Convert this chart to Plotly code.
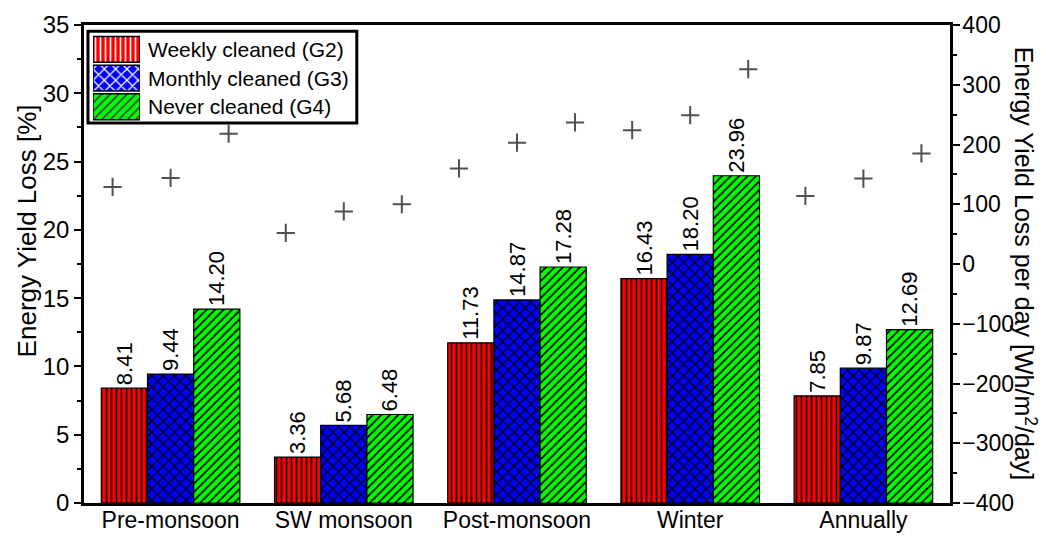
import plotly.graph_objects as go

# ---------------- data ----------------
categories = ["Pre-monsoon", "SW monsoon", "Post-monsoon", "Winter", "Annually"]
series_names = ["Weekly cleaned (G2)", "Monthly cleaned (G3)", "Never cleaned (G4)"]

weekly_loss = [8.41, 3.36, 11.73, 16.43, 7.85]
monthly_loss = [9.44, 5.68, 14.87, 18.20, 9.87]
never_loss = [14.20, 6.48, 17.28, 23.96, 12.69]

weekly_per_day = [129, 52, 160, 224, 114]
monthly_per_day = [144, 88, 203, 249, 143]
never_per_day = [218, 100, 237, 326, 185]

left_ticks = [0, 5, 10, 15, 20, 25, 30, 35]
right_ticks = [-400, -300, -200, -100, 0, 100, 200, 300, 400]

# ---------------- styles ----------------
FONT = "Arial, Liberation Sans, sans-serif"
colors = ["#ff0000", "#0000ff", "#00ff00"]
patterns = ["|", "x", "/"]
pattern_sizes = [5, 8, 6]
pattern_solidity = [0.32, 0.3, 0.3]
marker_offset = 0.335

loss_series = [weekly_loss, monthly_loss, never_loss]
perday_series = [weekly_per_day, monthly_per_day, never_per_day]
xpos = list(range(len(categories)))

fig = go.Figure()

for name, vals, col, pat, psz, sol in zip(series_names, loss_series, colors,
                                           patterns, pattern_sizes, pattern_solidity):
    fig.add_trace(go.Bar(
        x=xpos, y=vals, name=name,
        marker=dict(color=col, line=dict(color="black", width=1.2),
                    pattern=dict(shape=pat, fillmode="overlay", fgcolor="black",
                                 fgopacity=1, size=psz, solidity=sol)),
        texttemplate="%{y:.2f}", textposition="outside", textangle=-90,
        textfont=dict(size=22, color="black", family=FONT),
        constraintext="none", cliponaxis=False, showlegend=False,
    ))

for j, vals in enumerate(perday_series):
    fig.add_trace(go.Scatter(
        x=[x + (j - 1) * marker_offset for x in xpos], y=vals,
        yaxis="y2", mode="markers", showlegend=False,
        marker=dict(symbol="cross-thin", size=13, line=dict(color="#505050", width=2)),
    ))

# custom legend swatches (patterned bars on a mini axis)
rows = list(range(len(series_names)))[::-1]
fig.add_trace(go.Bar(
    x=[1] * len(series_names), y=rows, base=0, orientation="h", width=0.9,
    xaxis="x3", yaxis="y3", showlegend=False, hoverinfo="skip",
    marker=dict(color=colors, line=dict(color="black", width=1.5),
                pattern=dict(shape=patterns, fillmode="overlay", fgcolor="black",
                             fgopacity=1, size=pattern_sizes, solidity=pattern_solidity)),
))

annotations = []
for name, r in zip(series_names, rows):
    annotations.append(dict(
        x=1, y=r, xref="x3", yref="y3", text=name, showarrow=False,
        xanchor="left", yanchor="middle", xshift=6,
        font=dict(size=21, color="black", family=FONT)))

annotations.append(dict(
    x=-0.066, y=0.57, xref="paper", yref="paper", text="Energy Yield Loss [%]",
    textangle=-90, showarrow=False, xanchor="center", yanchor="middle",
    font=dict(size=26, color="black", family=FONT)))
annotations.append(dict(
    x=1.087, y=0.5, xref="paper", yref="paper",
    text="Energy Yield Loss per day [Wh/m<sup>2</sup>/day]",
    textangle=90, showarrow=False, xanchor="center", yanchor="middle",
    font=dict(size=25, color="black", family=FONT)))

axis_common = dict(showgrid=False, zeroline=False, showline=True, linecolor="black",
                   linewidth=2.5, automargin=False)

fig.update_layout(
    width=1046, height=537,
    margin=dict(l=84, r=96, t=25, b=34, autoexpand=False),
    paper_bgcolor="white", plot_bgcolor="white",
    font=dict(family=FONT, color="black"),
    barmode="group", bargap=0.2, bargroupgap=0,
    xaxis=dict(range=[-0.5, len(categories) - 0.5], tickvals=xpos, ticktext=categories,
               ticks="", mirror=True, tickfont=dict(size=23), ticklabelstandoff=-5,
               **axis_common),
    yaxis=dict(range=[left_ticks[0], left_ticks[-1]], tickvals=left_ticks,
               ticks="outside", ticklen=7, tickwidth=2, tickcolor="black",
               tickfont=dict(size=24),
               minor=dict(ticks="outside", ticklen=4, tickwidth=1.5, tickcolor="black",
                          tickmode="linear", tick0=0, dtick=2.5, showgrid=False),
               **axis_common),
    yaxis2=dict(range=[right_ticks[0], right_ticks[-1]], tickvals=right_ticks,
                overlaying="y", side="right",
                ticks="outside", ticklen=7, tickwidth=2, tickcolor="black",
                tickfont=dict(size=23), ticklabelstandoff=-2,
                minor=dict(ticks="outside", ticklen=4, tickwidth=1.5, tickcolor="black",
                           tickmode="linear", tick0=0, dtick=50, showgrid=False),
                **axis_common),
    xaxis3=dict(domain=[0.0104, 0.0647], range=[0, 1], anchor="y3", visible=False,
                fixedrange=True),
    yaxis3=dict(domain=[0.799, 0.979], range=[-0.5, len(series_names) - 0.5],
                anchor="x3", visible=False, fixedrange=True),
    shapes=[dict(type="rect", xref="paper", yref="paper", x0=0.0046, x1=0.315,
                 y0=0.795, y1=0.987, line=dict(color="black", width=3),
                 fillcolor="white", layer="below")],
    annotations=annotations,
)

fig.write_html("out.html")
